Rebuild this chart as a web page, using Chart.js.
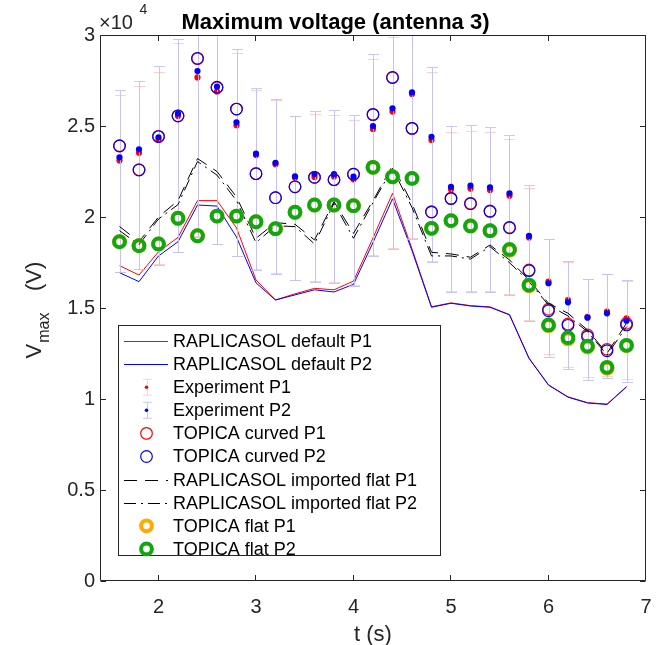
<!DOCTYPE html>
<html>
<head>
<meta charset="utf-8">
<script src="https://cdn.jsdelivr.net/npm/chart.js@4.4.1/dist/chart.umd.min.js"></script>
<style>
  body { margin: 0; background: #fff; }
  canvas { display: block; }
</style>
</head>
<body>
<canvas id="myChart" width="658" height="645"></canvas>
<script>
// time axis (s)
const times = [1.6, 1.8, 2.0, 2.2, 2.4, 2.6, 2.8, 3.0, 3.2, 3.4, 3.6, 3.8, 4.0, 4.2,
  4.4, 4.6, 4.8, 5.0, 5.2, 5.4, 5.6, 5.8, 6.0, 6.2, 6.4, 6.6, 6.8];

// RAPLICASOL default
const defaultP1 = [17330, 16810, 18090, 18880, 20900, 20900, 19400, 16540, 15440, 15780, 16080, 16000, 16480, 18850,
  21300, 18250, 15070, 15280, 15130, 15060, 14640, 12250, 10780, 10120, 9800, 9720, 10680];
const defaultP2 = [16940, 16450, 17860, 18640, 20660, 20600, 18900, 16380, 15440, 15720, 16000, 15880, 16300, 18600,
  21000, 18150, 15040, 15260, 15110, 15040, 14620, 12230, 10760, 10100, 9780, 9700, 10660];

// experiment, with error bar ends
const expP1 = [23110, 23530, 24250, 25550, 27670, 26890, 25040, 23400, 22900, 22150, 22200, 22230, 22070, 24840,
  25790, 26760, 24230, 21520, 21560, 21480, 21170, 18880, 16450, 15440, 14520, 14800, 14430];
const expP2 = [23280, 23720, 24380, 25680, 28020, 27160, 25200, 23480, 22980, 22240, 22360, 22360, 22220, 25000,
  25970, 26850, 24410, 21660, 21720, 21630, 21300, 18960, 16360, 15310, 14470, 14710, 14300];
const expHighP1 = [26700, 27190, 27990, 29540, 30700, 30000, 28990, 26980, 26410, 25530, 25660, 25590, 25350, 28700,
  29900, 30200, 27950, 24670, 24740, 24670, 24290, 21610, 18770, 17540, 16580, 16850, 16470];
const expHighP2 = [26970, 27470, 28280, 29780, 31000, 30300, 29210, 27070, 26470, 25570, 25840, 25860, 25600, 28970,
  30100, 30500, 28220, 25000, 25050, 24930, 24520, 21780, 18810, 17580, 16590, 16880, 16520];
const expLowP1 = [17000, 17170, 17420, 18100, 18950, 18540, 17880, 17150, 16930, 16560, 16470, 16430, 16270, 17900,
  18300, 18850, 17570, 15920, 15920, 15920, 15770, 14320, 12450, 11780, 11190, 11280, 11080];
const expLowP2 = [16960, 17130, 17380, 18060, 18900, 18500, 17840, 17110, 16890, 16520, 16430, 16390, 16230, 17840,
  18260, 18810, 17520, 15880, 15880, 15880, 15730, 14270, 12320, 11630, 11040, 11170, 10950];

// TOPICA curved
const curvedP1 = [23920, 22600, 24430, 25550, 28700, 27110, 25930, 22380, 21060, 21660, 22180, 22050, 22350, 25620,
  27660, 24870, 20290, 21030, 20750, 20330, 19430, 17090, 14930, 14120, 13520, 12730, 14160];
const curvedP2 = [23900, 22580, 24420, 25560, 28720, 27130, 25930, 22380, 21060, 21660, 22180, 22050, 22350, 25640,
  27670, 24870, 20270, 21010, 20730, 20310, 19410, 17050, 14850, 14050, 13420, 12650, 14070];

// RAPLICASOL imported flat
const importedP1 = [19480, 18640, 20000, 20900, 23210, 22500, 21100, 18830, 19690, 19600, 18740, 20840, 19100, 20900,
  22830, 20750, 18060, 17970, 17790, 18460, 17640, 16540, 15260, 14710, 13790, 12510, 14160];
const importedP2 = [19250, 18480, 19890, 20680, 23050, 22300, 20900, 18590, 19520, 19470, 18520, 20750, 18830, 20790,
  22670, 20520, 17860, 17860, 17690, 18370, 17490, 16450, 15160, 14560, 13700, 12420, 13970];

// TOPICA flat
const flatP1 = [18640, 18420, 18520, 19930, 18970, 20050, 20050, 19740, 19360, 20260, 20660, 20660, 20620, 22730,
  22210, 22120, 19380, 19800, 19510, 19250, 18170, 16220, 14030, 13300, 12850, 11680, 12930];
const flatP2 = [18640, 18420, 18520, 19930, 18970, 20050, 20050, 19740, 19360, 20260, 20660, 20660, 20620, 22730,
  22210, 22120, 19380, 19800, 19510, 19250, 18220, 16260, 14070, 13370, 12910, 11740, 12950];

const xTickVals = [2, 3, 4, 5, 6, 7];
const yTickVals = [0, 5000, 10000, 15000, 20000, 25000, 30000];
const yTickLabels = ["0", "0.5", "1", "1.5", "2", "2.5", "3"];

const FONT = "'Liberation Sans', Arial, Helvetica, sans-serif";
const AXIS_COLOR = "#262626";

function pts(vals) {
  return times.map((t, i) => ({ x: t, y: vals[i] }));
}

function lineSet(label, vals, color, dash) {
  return {
    label, data: pts(vals), borderColor: color, borderWidth: 1, borderDash: dash || [],
    pointRadius: 0, showLine: true, fill: false, tension: 0, legendColor: color,
  };
}

function markerSet(label, vals, color, opts) {
  return Object.assign({
    label, data: pts(vals), showLine: false, pointStyle: "circle",
    borderColor: color, backgroundColor: "rgba(0,0,0,0)", legendColor: color,
  }, opts);
}

const datasets = [
  lineSet("RAPLICASOL default P1", defaultP1, "#ff0000"),
  lineSet("RAPLICASOL default P2", defaultP2, "#0000ff"),
  markerSet("Experiment P1", expP1, "#ff0000", {
    backgroundColor: "#ff0000", pointRadius: 3.1, pointBorderWidth: 0,
    errLow: expLowP1, errHigh: expHighP1, errColor: "rgba(255,170,170,0.55)",
  }),
  markerSet("Experiment P2", expP2, "#0000ff", {
    backgroundColor: "#0000ff", pointRadius: 3.1, pointBorderWidth: 0,
    errLow: expLowP2, errHigh: expHighP2, errColor: "rgba(190,190,250,0.85)",
  }),
  markerSet("TOPICA curved P1", curvedP1, "#ff0000", { pointRadius: 5.8, pointBorderWidth: 1.2 }),
  markerSet("TOPICA curved P2", curvedP2, "#0000ff", { pointRadius: 5.8, pointBorderWidth: 1.2 }),
  lineSet("RAPLICASOL imported flat P1", importedP1, "#000000", [13, 8]),
  lineSet("RAPLICASOL imported flat P2", importedP2, "#000000", [12, 5, 2, 5]),
  markerSet("TOPICA flat P1", flatP1, "#ffaa00", { pointRadius: 5.4, pointBorderWidth: 4 }),
  markerSet("TOPICA flat P2", flatP2, "#10a810", { pointRadius: 5.4, pointBorderWidth: 4 }),
];
// later series are painted on top
datasets.forEach((d, i) => { d.order = datasets.length - i; });

// vertical error bars with caps, painted just before the dots of each experiment series
const errorBars = {
  id: "errorBars",
  beforeDatasetDraw(chart, args) {
    const ds = chart.data.datasets[args.index];
    if (!ds.errLow) return;
    const { ctx, chartArea: a, scales: { x, y } } = chart;
    ctx.save();
    ctx.beginPath();
    ctx.rect(a.left, a.top, a.right - a.left, a.bottom - a.top);
    ctx.clip();
    ctx.strokeStyle = ds.errColor;
    ctx.lineWidth = 1;
    ds.data.forEach((p, i) => {
      const px = Math.round(x.getPixelForValue(p.x)) + 0.5;
      const yl = Math.round(y.getPixelForValue(ds.errLow[i])) + 0.5;
      const yh = Math.round(y.getPixelForValue(ds.errHigh[i])) + 0.5;
      ctx.beginPath();
      ctx.moveTo(px, yl); ctx.lineTo(px, yh);
      ctx.moveTo(px - 5.5, yl); ctx.lineTo(px + 5.5, yl);
      ctx.moveTo(px - 5.5, yh); ctx.lineTo(px + 5.5, yh);
      ctx.stroke();
    });
    ctx.restore();
  },
};

// box around the axes with inward tick marks on all four sides
const axesBox = {
  id: "axesBox",
  afterDatasetsDraw(chart) {
    const { ctx, chartArea: a, scales: { x, y } } = chart;
    const L = a.left + 0.5, R = a.right - 0.5, T = a.top + 0.5, B = a.bottom - 0.5;
    ctx.save();
    ctx.strokeStyle = AXIS_COLOR;
    ctx.lineWidth = 1;
    ctx.beginPath();
    ctx.rect(L, T, R - L, B - T);
    xTickVals.forEach(v => {
      const px = Math.round(x.getPixelForValue(v)) - 0.5;
      ctx.moveTo(px, B); ctx.lineTo(px, B - 5.5);
      ctx.moveTo(px, T); ctx.lineTo(px, T + 5.5);
    });
    yTickVals.forEach(v => {
      const py = Math.round(y.getPixelForValue(v)) + 0.5;
      ctx.moveTo(L, py); ctx.lineTo(L + 5.5, py);
      ctx.moveTo(R, py); ctx.lineTo(R - 5.5, py);
    });
    ctx.stroke();
    ctx.restore();
  },
};

// title, exponent, axis labels and the legend box
const annotations = {
  id: "annotations",
  afterDraw(chart) {
    const { ctx, chartArea: a } = chart;
    ctx.save();

    ctx.fillStyle = "#000";
    ctx.font = "bold 22px " + FONT;
    ctx.textAlign = "center";
    ctx.textBaseline = "alphabetic";
    ctx.fillText("Maximum voltage (antenna 3)", 335.5, 28.5);

    ctx.fillStyle = AXIS_COLOR;
    ctx.textAlign = "left";
    ctx.font = "20px " + FONT;
    ctx.fillText("\u00d710", 99, 28.5);
    ctx.font = "14px " + FONT;
    ctx.fillText("4", 139.5, 14);

    ctx.font = "22px " + FONT;
    ctx.textAlign = "center";
    ctx.fillText("t (s)", (a.left + a.right) / 2, 641);

    // rotated y label: V_max (V)
    ctx.save();
    ctx.translate(40.5, 358.5);
    ctx.rotate(-Math.PI / 2);
    ctx.textAlign = "left";
    ctx.font = "22px " + FONT;
    ctx.fillText("V", 0, 0);
    const w = ctx.measureText("V").width;
    ctx.font = "16px " + FONT;
    ctx.fillText("max", w + 1, 8);
    ctx.font = "22px " + FONT;
    ctx.fillText("(V)", 67.5, 0);
    ctx.restore();

    // legend
    const bx = 118.5, by = 325.5, bw = 322, bh = 230;
    ctx.fillStyle = "#fff";
    ctx.fillRect(bx, by, bw, bh);
    ctx.strokeStyle = AXIS_COLOR;
    ctx.lineWidth = 1;
    ctx.strokeRect(bx, by, bw, bh);

    chart.data.datasets.forEach((ds, i) => {
      const ry = 341 + i * 23.1;
      const cx = 146.5;
      ctx.save();
      if (ds.showLine) {
        ctx.strokeStyle = ds.legendColor;
        ctx.lineWidth = 1;
        ctx.setLineDash(ds.borderDash.slice());
        ctx.beginPath();
        ctx.moveTo(124, Math.round(ry) + 0.5);
        ctx.lineTo(168, Math.round(ry) + 0.5);
        ctx.stroke();
      } else if (ds.errLow) {
        const px = Math.round(cx) + 0.5;
        ctx.strokeStyle = ds.errColor;
        ctx.lineWidth = 1;
        ctx.beginPath();
        ctx.moveTo(px, ry - 8); ctx.lineTo(px, ry + 8);
        ctx.moveTo(px - 4.5, ry - 8); ctx.lineTo(px + 4.5, ry - 8);
        ctx.moveTo(px - 4.5, ry + 8); ctx.lineTo(px + 4.5, ry + 8);
        ctx.stroke();
        ctx.fillStyle = ds.legendColor;
        ctx.beginPath();
        ctx.arc(cx, ry, 1.8, 0, Math.PI * 2);
        ctx.fill();
      } else {
        ctx.strokeStyle = ds.legendColor;
        ctx.lineWidth = ds.pointBorderWidth;
        ctx.beginPath();
        ctx.arc(cx, ry, ds.pointRadius, 0, Math.PI * 2);
        ctx.stroke();
      }
      ctx.restore();
      ctx.fillStyle = "#000";
      ctx.font = "18px " + FONT;
      ctx.textAlign = "left";
      ctx.textBaseline = "middle";
      ctx.fillText(ds.label, 173, ry + 1);
    });

    ctx.restore();
  },
};

const ctx = document.getElementById("myChart");
const myChart = new Chart(ctx, {
  type: "line",
  data: { datasets },
  plugins: [errorBars, axesBox, annotations],
  options: {
    responsive: false,
    animation: false,
    devicePixelRatio: 1,
    layout: { padding: { top: 35, right: 12, bottom: 0, left: 0 } },
    plugins: { legend: { display: false }, tooltip: { enabled: false } },
    scales: {
      x: {
        type: "linear",
        min: 1.4,
        max: 7,
        grid: { display: false, drawTicks: false },
        border: { display: false },
        afterBuildTicks: s => { s.ticks = xTickVals.map(v => ({ value: v })); },
        afterFit: s => { s.height = 64; s.paddingLeft = 0; s.paddingRight = 0; },
        ticks: { font: { family: FONT, size: 20 }, color: AXIS_COLOR, padding: 14, maxRotation: 0 },
      },
      y: {
        type: "linear",
        min: 0,
        max: 30000,
        grid: { display: false, drawTicks: false },
        border: { display: false },
        afterBuildTicks: s => { s.ticks = yTickVals.map(v => ({ value: v })); },
        afterFit: s => { s.width = 100; s.paddingTop = 0; s.paddingBottom = 0; },
        ticks: {
          font: { family: FONT, size: 20 }, color: AXIS_COLOR, padding: 5,
          callback: (v, i) => yTickLabels[i],
        },
      },
    },
  },
});
</script>
</body>
</html>
